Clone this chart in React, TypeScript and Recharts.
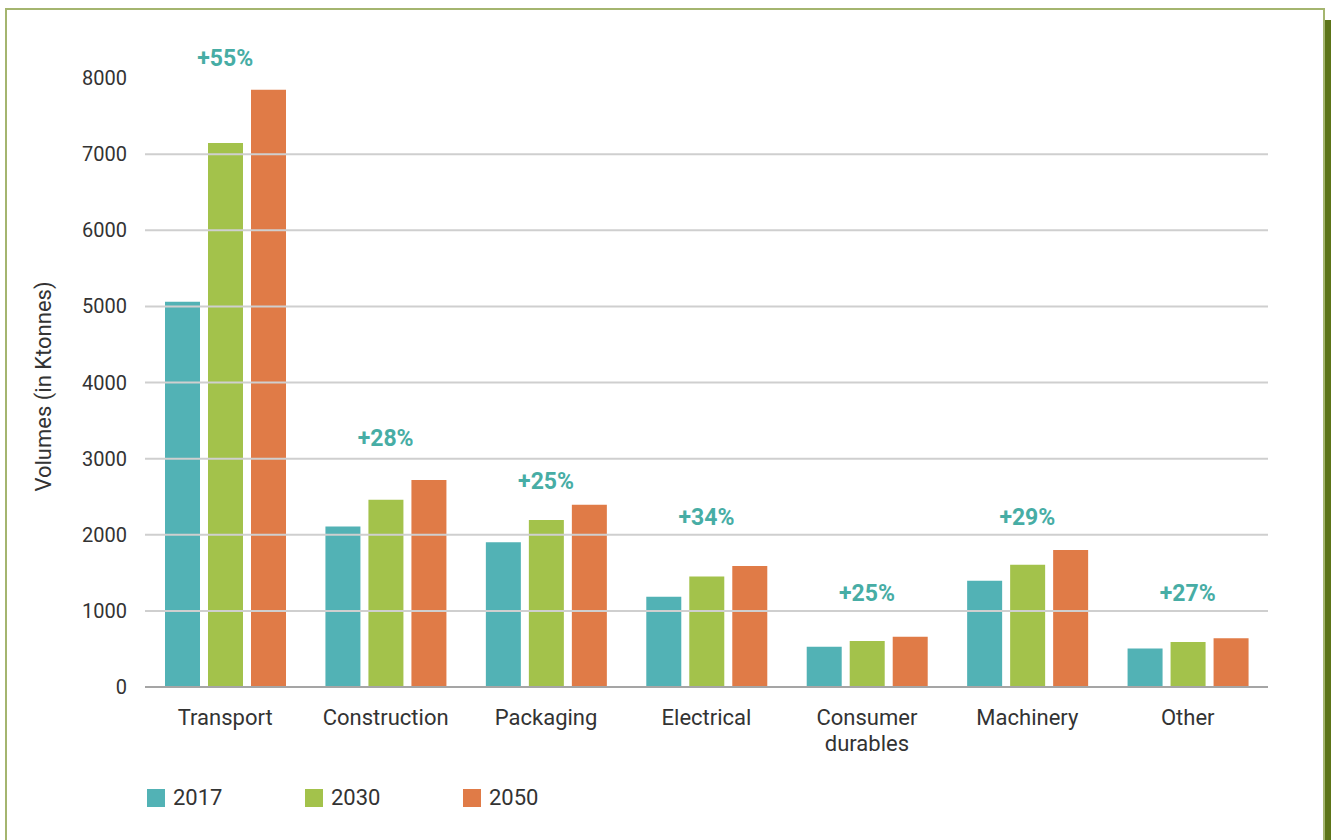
import React from "react";
import {
  BarChart,
  Bar,
  XAxis,
  YAxis,
  Legend,
  Label,
  ReferenceLine,
  ReferenceDot,
  Text,
} from "recharts";

const categories = ["Transport", "Construction", "Packaging", "Electrical", "Consumer durables", "Machinery", "Other"];
const values2017 = [5060, 2110, 1900, 1185, 530, 1395, 505];
const values2030 = [7145, 2460, 2195, 1450, 605, 1605, 590];
const values2050 = [7845, 2720, 2395, 1590, 660, 1800, 640];
const growthLabels = ["+55%", "+28%", "+25%", "+34%", "+25%", "+29%", "+27%"];
const growthLabelAt = [8265, 3270, 2710, 2235, 1235, 2235, 1235];
const yTicks = [0, 1000, 2000, 3000, 4000, 5000, 6000, 7000, 8000];
const gridValues = [1000, 2000, 3000, 4000, 5000, 6000, 7000];

const FONT = "Roboto, 'Noto Sans', sans-serif";
const TEXT = "#333333";
const TEAL = "#52b2b5";
const GREEN = "#a3c24b";
const ORANGE = "#e07b47";
const LABEL_TEAL = "#47ada5";

const chartData = categories.map((name, i) => ({
  name,
  y2017: values2017[i],
  y2030: values2030[i],
  y2050: values2050[i],
}));

function CategoryTick(props: any) {
  const { x, y, payload } = props;
  return (
    <Text
      x={x}
      y={y}
      width={125}
      textAnchor="middle"
      verticalAnchor="start"
      lineHeight={26}
      fill={TEXT}
      fontSize={22}
      fontFamily={FONT}
      style={{ fontSize: 22, fontFamily: FONT }}
    >
      {payload.value}
    </Text>
  );
}

function YTitle(props: any) {
  const vb = props.viewBox;
  const cx = vb.x - 22;
  const cy = vb.y + vb.height / 2 + 4;
  return (
    <text
      x={cx}
      y={cy}
      transform={`rotate(-90 ${cx} ${cy})`}
      textAnchor="middle"
      dominantBaseline="central"
      fill={TEXT}
      fontSize={22}
      fontFamily={FONT}
    >
      Volumes (in Ktonnes)
    </text>
  );
}

function LegendContent(props: any) {
  const items = props.payload ?? [];
  return (
    <div style={{ display: "flex", fontFamily: FONT }}>
      {items.map((it: any) => (
        <div key={it.value} style={{ display: "flex", alignItems: "center", width: 158 }}>
          <span style={{ width: 18, height: 18, background: it.color, display: "inline-block", marginRight: 8 }} />
          <span style={{ fontSize: 22, color: TEXT }}>{it.value}</span>
        </div>
      ))}
    </div>
  );
}

export default function App() {
  return (
    <div style={{ position: "absolute", top: 0, left: 0, width: 1331, height: 840, background: "#fff", overflow: "hidden" }}>
      <div
        style={{
          position: "absolute",
          left: 5,
          top: 8,
          width: 1316,
          height: 900,
          borderTop: "2px solid #a4b56f",
          borderLeft: "2px solid #a4b56f",
          borderRight: "2px solid #a4b56f",
        }}
      />
      <div style={{ position: "absolute", left: 1325, top: 20, width: 10, height: 900, background: "#5c7418" }} />
      <div style={{ position: "absolute", left: 0, top: 0 }}>
        <BarChart
          width={1331}
          height={840}
          data={chartData}
          margin={{ top: 78, right: 63, bottom: 93, left: 65 }}
          barSize={35}
          barGap={8}
        >
          {gridValues.map(v => (
            <ReferenceLine key={v} y={v} stroke="#cfcfcf" strokeWidth={2} />
          ))}
          <XAxis
            dataKey="name"
            height={60}
            tickLine={false}
            tickSize={0}
            tickMargin={22}
            axisLine={{ stroke: "#a5a5a5", strokeWidth: 2 }}
            tick={<CategoryTick />}
            interval={0}
          />
          <YAxis
            width={80}
            domain={[0, 8000]}
            ticks={yTicks}
            axisLine={false}
            tickLine={false}
            tickSize={0}
            tickMargin={18}
            tick={{ fontSize: 20, fill: TEXT, fontFamily: FONT }}
          >
            <Label content={<YTitle />} />
          </YAxis>
          <Legend
            layout="horizontal"
            verticalAlign="middle"
            align="center"
            wrapperStyle={{ top: 785, left: 147, width: "auto" }}
            content={<LegendContent />}
          />
          <Bar dataKey="y2017" name="2017" fill={TEAL} isAnimationActive={false} />
          <Bar dataKey="y2030" name="2030" fill={GREEN} isAnimationActive={false} />
          <Bar dataKey="y2050" name="2050" fill={ORANGE} isAnimationActive={false} />
          {categories.map((c, i) => (
            <ReferenceDot
              key={c}
              x={c}
              y={growthLabelAt[i]}
              r={0}
              ifOverflow="visible"
              label={{
                value: growthLabels[i],
                position: "center",
                fill: LABEL_TEAL,
                fontSize: 23,
                fontWeight: 700,
                fontFamily: FONT,
              }}
            />
          ))}
        </BarChart>
      </div>
    </div>
  );
}
